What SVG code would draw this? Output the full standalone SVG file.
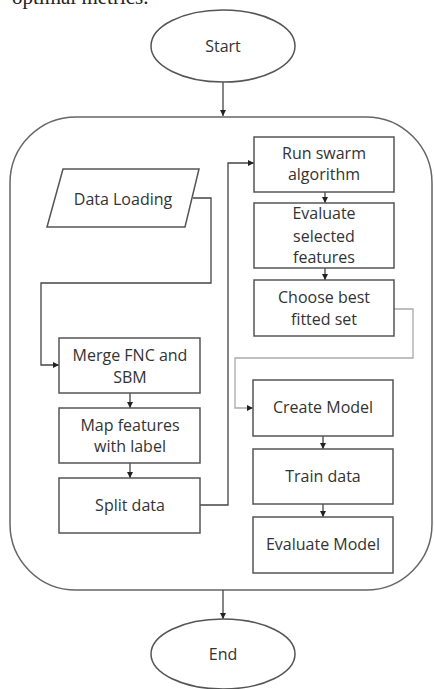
<svg xmlns="http://www.w3.org/2000/svg" width="434" height="689" viewBox="0 0 434 689">
<style>
.n{fill:#fff;stroke:#555;stroke-width:1.5}
.t{font-family:"Open Sans","Noto Sans",sans-serif;font-size:16px;fill:#333;text-anchor:middle}
.c{fill:none;stroke:#444;stroke-width:1.3}
.cl{fill:none;stroke:#aaa;stroke-width:1.3}
</style>
<defs>
<marker id="ah" viewBox="0 0 10 10" refX="10" refY="5" markerWidth="6" markerHeight="6" markerUnits="userSpaceOnUse" orient="auto">
<path d="M0,0 L10,5 L0,10 z" fill="#222"/>
</marker>
</defs>
<rect width="434" height="689" fill="#fff"/>
<text x="12" y="4" font-family="Liberation Serif,serif" font-size="21" fill="#222">optimal metrics.</text>
<g id="container"><rect x="10" y="117" width="422" height="473" rx="66" ry="66" fill="none" stroke="#666" stroke-width="1.5"/></g>
<g id="connectors">
<path class="c" d="M223,82 V116" marker-end="url(#ah)"/>
<path class="c" d="M193,198 H211 V283 H41 V365 H59" marker-end="url(#ah)"/>
<path class="c" d="M130,393 V408" marker-end="url(#ah)"/>
<path class="c" d="M130,463 V478" marker-end="url(#ah)"/>
<path class="c" d="M200,505 H228 V163 H254" marker-end="url(#ah)"/>
<path class="c" d="M325,192 V203" marker-end="url(#ah)"/>
<path class="c" d="M325,268 V280" marker-end="url(#ah)"/>
<path class="cl" d="M394,309 H413 V358 H235 V408 H253" marker-end="url(#ah)"/>
<path class="c" d="M323,436 V449" marker-end="url(#ah)"/>
<path class="c" d="M323,504 V517" marker-end="url(#ah)"/>
<path class="c" d="M223,590 V619" marker-end="url(#ah)"/>
</g>
<g id="start"><ellipse class="n" cx="223" cy="46" rx="72" ry="36"/><text class="t" x="223" y="52">Start</text></g>
<g id="data-loading"><polygon class="n" points="63,169 199,169 185,227 47,227"/><text class="t" x="123" y="205">Data Loading</text></g>
<g id="merge"><rect class="n" x="59" y="338" width="141" height="55"/><text class="t" x="130" y="361">Merge FNC and</text><text class="t" x="130" y="383">SBM</text></g>
<g id="map"><rect class="n" x="59" y="408" width="141" height="55"/><text class="t" x="130" y="431">Map features</text><text class="t" x="130" y="452">with label</text></g>
<g id="split"><rect class="n" x="59" y="478" width="141" height="55"/><text class="t" x="130" y="511">Split data</text></g>
<g id="swarm"><rect class="n" x="254" y="137" width="140" height="55"/><text class="t" x="324" y="159">Run swarm</text><text class="t" x="324" y="180">algorithm</text></g>
<g id="evaluate-features"><rect class="n" x="254" y="203" width="140" height="65"/><text class="t" x="324" y="219">Evaluate</text><text class="t" x="324" y="242">selected</text><text class="t" x="324" y="263">features</text></g>
<g id="choose"><rect class="n" x="254" y="280" width="140" height="56"/><text class="t" x="324" y="303">Choose best</text><text class="t" x="324" y="325">fitted set</text></g>
<g id="create"><rect class="n" x="253" y="380" width="140" height="56"/><text class="t" x="323" y="413">Create Model</text></g>
<g id="train"><rect class="n" x="253" y="449" width="140" height="55"/><text class="t" x="323" y="482">Train data</text></g>
<g id="evaluate-model"><rect class="n" x="253" y="517" width="140" height="56"/><text class="t" x="323" y="550">Evaluate Model</text></g>
<g id="end"><ellipse class="n" cx="223" cy="654" rx="72" ry="35"/><text class="t" x="223" y="660">End</text></g>
</svg>
